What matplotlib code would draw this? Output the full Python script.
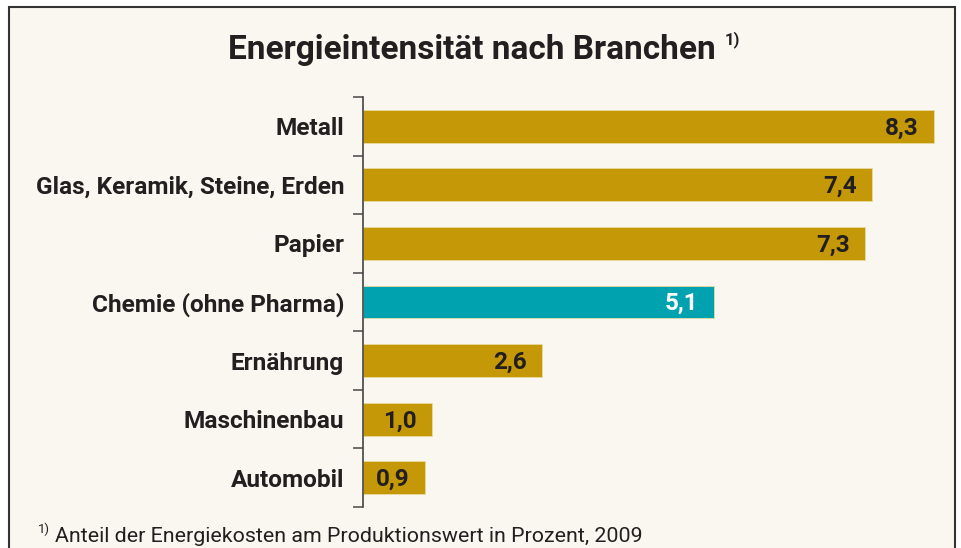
import matplotlib
matplotlib.use("Agg")
import matplotlib.pyplot as plt
from matplotlib.patches import Rectangle

categories = ["Metall", "Glas, Keramik, Steine, Erden", "Papier", "Chemie (ohne Pharma)",
              "Ernährung", "Maschinenbau", "Automobil"]
values = [8.3, 7.4, 7.3, 5.1, 2.6, 1.0, 0.9]
highlight = "Chemie (ohne Pharma)"
value_labels = ["8,3", "7,4", "7,3", "5,1", "2,6", "1,0", "0,9"]

title = "Energieintensität nach Branchen"
footnote = "Anteil der Energiekosten am Produktionswert in Prozent, 2009"

cond = "Roboto"

GOLD = "#C59807"
TEAL = "#00A2B0"
BG = "#FAF7F0"
DARK = "#231F20"

W, H = 961, 548
fig = plt.figure(figsize=(W / 100, H / 100), dpi=100)
fig.patch.set_facecolor("white")

# frame
fig.patches.append(Rectangle((9 / W, -0.1), (955 - 9) / W, 1.1 - 7 / H,
                             transform=fig.transFigure, facecolor=BG,
                             edgecolor="#333333", linewidth=1.5, zorder=-10))

ax = fig.add_axes([363 / W, 1 - 507 / H, (949 - 363) / W, (507 - 97) / H])
ax.set_facecolor("none")
y = list(range(len(categories)))
colors = [TEAL if c == highlight else GOLD for c in categories]
ax.barh(y, values, height=0.56, color=colors, edgecolor="#E8D9A0", linewidth=0.6)
ax.set_ylim(len(categories) - 0.5, -0.5)
ax.set_xlim(0, (949 - 363) / 68.8)

for yi, v, lab, c in zip(y, values, value_labels, categories):
    ax.text(v - 0.22, yi + 0.03, lab, ha="right", va="center", fontsize=17.5,
            fontweight="bold", family=cond,
            color="white" if c == highlight else DARK)

ax.set_yticks(y)
ax.set_yticklabels(categories, fontsize=17.6, fontweight="bold", family=cond, color=DARK)
ax.tick_params(axis="y", which="major", length=0, pad=13.5)
ax.set_yticks([i - 0.5 for i in range(len(categories) + 1)], minor=True)
ax.tick_params(axis="y", which="minor", length=7, width=1.2, color="#555555")
ax.set_xticks([])
for s in ["top", "right", "bottom"]:
    ax.spines[s].set_visible(False)
ax.spines["left"].set_color("#444444")
ax.spines["left"].set_linewidth(1.2)

t = fig.text(472 / W, 1 - 50 / H, title, ha="center", va="center", fontsize=24,
             fontweight="bold", family=cond, color=DARK)
fig.canvas.draw()
bb = t.get_window_extent()
fig.text((bb.x1 + 9) / W, 1 - 40 / H, "1)", ha="left", va="center", fontsize=12,
         fontweight="bold", family=cond, color=DARK)
fig.text(38 / W, 1 - 529 / H, "1)", ha="left", va="center", fontsize=9.5,
         family=cond, color=DARK)
fig.text(55 / W, 1 - 536 / H, footnote, ha="left", va="center", fontsize=15.4,
         family=cond, color=DARK)

fig.savefig("out.png", dpi=100, facecolor=fig.get_facecolor())
